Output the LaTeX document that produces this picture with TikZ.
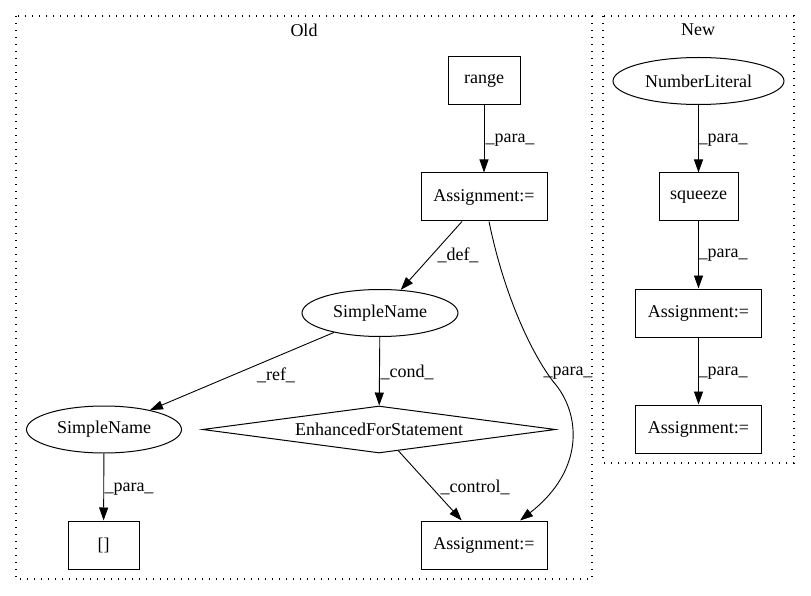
\documentclass[tikz,border=0pt]{standalone}
\usepackage{fontspec}
\setmainfont{Liberation Serif}
\usetikzlibrary{shapes.geometric,arrows.meta}
\begin{document}
\begin{tikzpicture}[x=1pt,y=-1pt,
  every node/.style={font=\fontsize{18}{20}\selectfont, inner sep=0pt},
  box/.style={draw, line width=1pt, minimum height=48pt},
  ell/.style={draw, ellipse, line width=1pt, minimum height=47pt},
  dia/.style={draw, diamond, aspect=7.5, line width=1pt, minimum width=353pt, minimum height=47pt},
  cluster/.style={draw, line width=1.1pt, dash pattern=on 1.2pt off 5.8pt},
  edge/.style={line width=0.9pt, -{Triangle[length=13pt,width=9pt]}},
  lab/.style={font=\fontsize{18}{20}\selectfont}]
\useasboundingbox (0,0) rectangle (811,596);
% clusters
\draw[cluster] (16,16) rectangle (592,579);
\draw[cluster] (603,16) rectangle (794,463);
\node[lab] (oldlab) at (304,30) {Old};
\node[lab] (newlab) at (698,30) {New};
% Old nodes
\node[box, minimum width=72pt] (range) at (484,81) {range};
\node[box, minimum width=126pt] (a1) at (484,197) {Assignment:=};
\node[ell, minimum width=156pt] (sn1) at (380,313) {SimpleName};
\node[ell, minimum width=155pt] (sn2) at (104,429.5) {SimpleName};
\node[dia] (efs) at (379,429.5) {EnhancedForStatement};
\node[box, minimum width=71pt] (br) at (103.5,545) {[]};
\node[box, minimum width=126pt] (a3) at (484,545) {Assignment:=};
% New nodes
\node[ell, minimum width=171pt] (nl) at (698.5,81) {NumberLiteral};
\node[box, minimum width=79pt] (sq) at (698.5,197) {squeeze};
\node[box, minimum width=126pt] (na1) at (698.5,313) {Assignment:=};
\node[box, minimum width=126pt] (na2) at (698.5,429) {Assignment:=};
% Old edges
\draw[edge] (range) -- (a1);
\draw[edge] ([xshift=-22pt]a1.south) -- (sn1);
\draw[edge] (sn1) -- (sn2);
\draw[edge] (sn1) -- (efs);
\draw[edge] (sn2) -- (br);
\draw[edge] (efs) -- (a3);
\draw[edge] ([xshift=5pt]a1.south) .. controls (505,300) and (535,360) .. (556,385)
  .. controls (580,415) and (585,470) .. ([xshift=36pt]a3.north);
% New edges
\draw[edge] (nl) -- (sq);
\draw[edge] (sq) -- (na1);
\draw[edge] (na1) -- (na2);
% labels
\node[lab] (l1) at (510,140) {\_para\_};
\node[lab] (l2) at (458,255) {\_def\_};
\node[lab] (l3) at (276,375) {\_ref\_};
\node[lab] (l4) at (407,372) {\_cond\_};
\node[lab] (l5) at (568,373) {\_para\_};
\node[lab] (l6) at (129,489) {\_para\_};
\node[lab] (l7) at (475,487) {\_control\_};
\node[lab] (l8) at (723,140) {\_para\_};
\node[lab] (l9) at (723,255) {\_para\_};
\node[lab] (l10) at (723,373) {\_para\_};
\end{tikzpicture}
\end{document}
